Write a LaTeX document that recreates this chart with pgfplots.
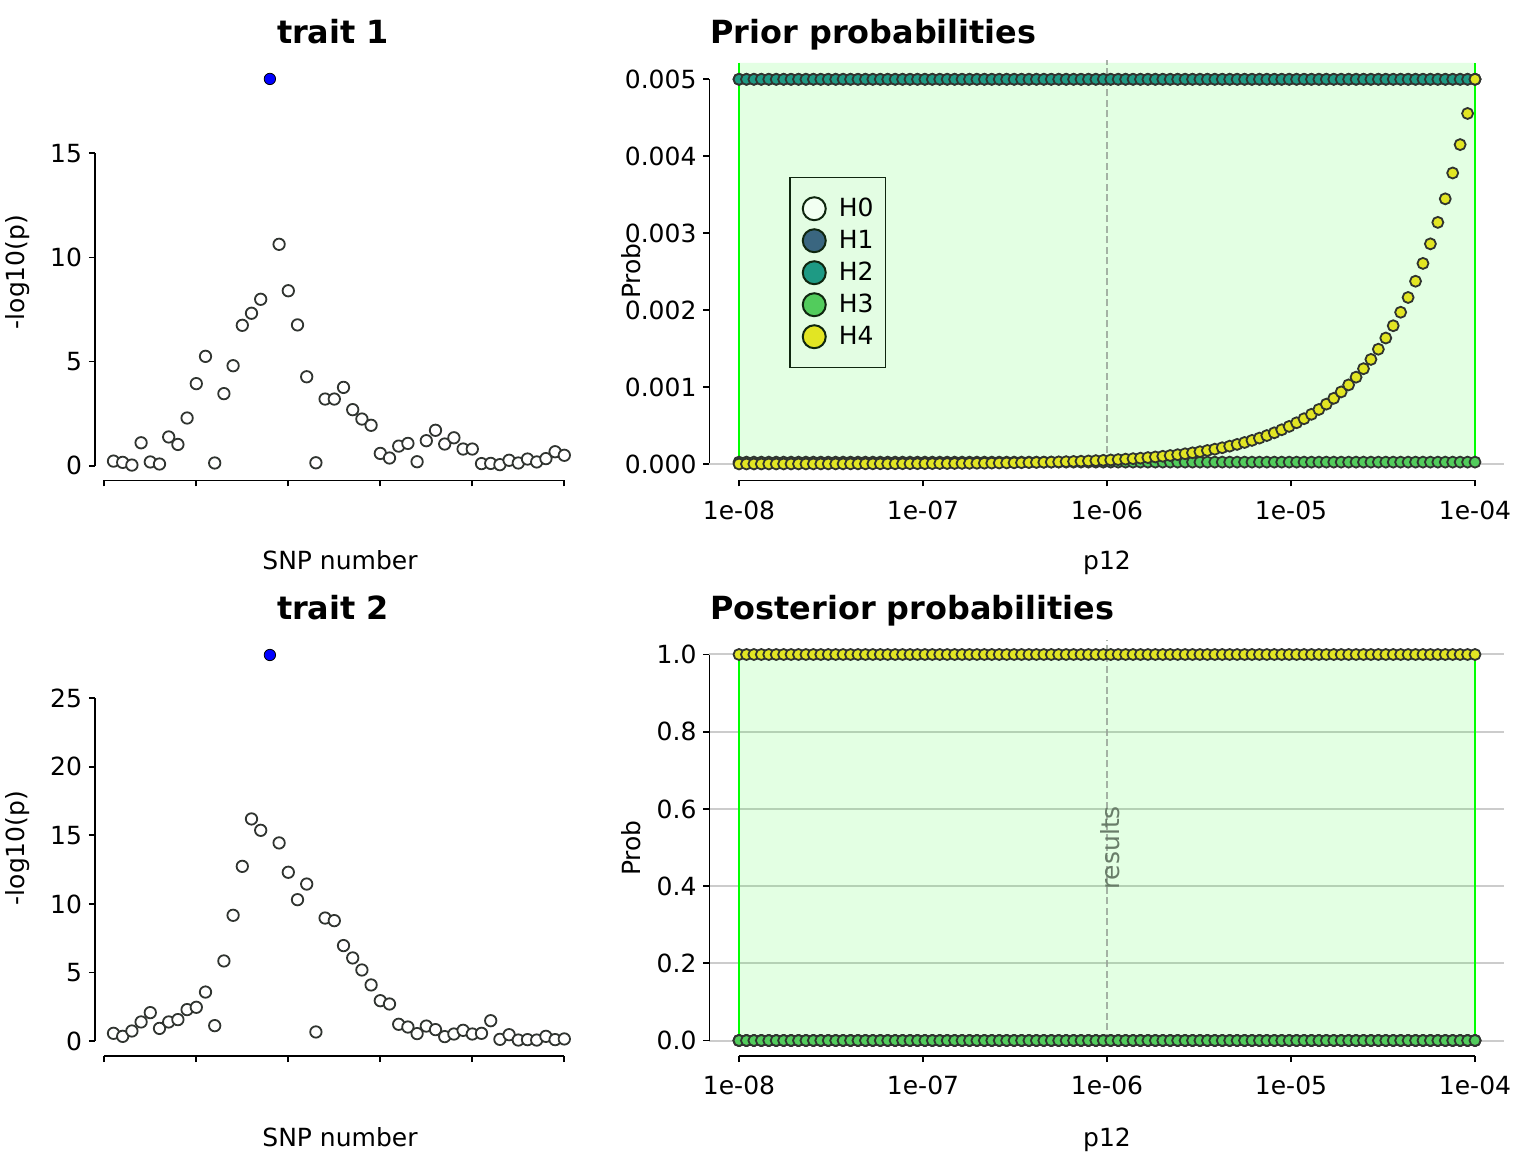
\documentclass[border=0pt]{standalone}
\usepackage{fontspec}
\setmainfont{DejaVu Sans}
\usepackage{pgfplots}
\usepackage{pgfplotstable}
\pgfplotsset{compat=1.18}

\definecolor{h1c}{RGB}{58,102,128}
\definecolor{h2c}{RGB}{30,154,132}
\definecolor{h3c}{RGB}{82,204,92}
\definecolor{h4c}{RGB}{226,229,35}
\definecolor{h0c}{RGB}{242,255,242}
\definecolor{edgec}{RGB}{48,52,48}
\definecolor{legedge}{RGB}{15,38,15}
\definecolor{legfill}{RGB}{227,253,227}
\definecolor{gridc}{RGB}{204,204,204}
\definecolor{dashc}{RGB}{150,160,150}
\definecolor{restext}{RGB}{105,125,105}

\newcommand{\tfont}{\fontsize{12.5}{15}\selectfont}
\newcommand{\ttfont}{\fontsize{15.95}{19}\selectfont\bfseries}

% SNP -log10(p) values, SNP 18 (the lead SNP) is plotted on its own
\pgfplotstableread{
snp t1 t2
1 0.22 0.56
2 0.16 0.34
3 0.03 0.73
4 1.10 1.39
5 0.18 2.07
6 0.08 0.92
7 1.38 1.39
8 1.02 1.56
9 2.29 2.29
10 3.94 2.46
11 5.25 3.57
12 0.13 1.12
13 3.46 5.84
14 4.80 9.17
15 6.74 12.74
16 7.32 16.20
17 7.99 15.37
19 10.63 14.45
20 8.40 12.31
21 6.76 10.31
22 4.27 11.45
23 0.14 0.66
24 3.20 8.97
25 3.20 8.78
26 3.76 6.96
27 2.69 6.06
28 2.24 5.18
29 1.94 4.09
30 0.59 2.94
31 0.37 2.70
32 0.94 1.22
33 1.07 1.02
34 0.19 0.54
35 1.20 1.09
36 1.70 0.83
37 1.04 0.32
38 1.34 0.51
39 0.80 0.78
40 0.80 0.51
41 0.10 0.56
42 0.11 1.48
43 0.05 0.12
44 0.26 0.46
45 0.13 0.07
46 0.32 0.10
47 0.18 0.07
48 0.34 0.34
49 0.67 0.10
50 0.50 0.15
}\snps

% p12 grid with prior H4 (h4), prior H1/H2 (hc), prior H3 (h3), posteriors (one, zero)
\pgfplotstableread{
p12 h4 hc h3 one zero
1.00000e-8 5.00000e-7 0.005 2.45e-5 1 0
1.09750e-8 5.48749e-7 0.005 2.45e-5 1 0
1.20450e-8 6.02252e-7 0.005 2.45e-5 1 0
1.32194e-8 6.60971e-7 0.005 2.45e-5 1 0
1.45083e-8 7.25415e-7 0.005 2.45e-5 1 0
1.59228e-8 7.96142e-7 0.005 2.45e-5 1 0
1.74753e-8 8.73764e-7 0.005 2.45e-5 1 0
1.91791e-8 9.58955e-7 0.005 2.45e-5 1 0
2.10491e-8 1.05245e-6 0.005 2.45e-5 1 0
2.31014e-8 1.15507e-6 0.005 2.45e-5 1 0
2.53537e-8 1.26769e-6 0.005 2.45e-5 1 0
2.78257e-8 1.39129e-6 0.005 2.45e-5 1 0
3.05387e-8 1.52694e-6 0.005 2.45e-5 1 0
3.35162e-8 1.67581e-6 0.005 2.45e-5 1 0
3.67841e-8 1.83920e-6 0.005 2.45e-5 1 0
4.03705e-8 2.01853e-6 0.005 2.45e-5 1 0
4.43066e-8 2.21533e-6 0.005 2.45e-5 1 0
4.86265e-8 2.43133e-6 0.005 2.45e-5 1 0
5.33676e-8 2.66838e-6 0.005 2.45e-5 1 0
5.85709e-8 2.92854e-6 0.005 2.45e-5 1 0
6.42815e-8 3.21407e-6 0.005 2.45e-5 1 0
7.05489e-8 3.52744e-6 0.005 2.45e-5 1 0
7.74273e-8 3.87137e-6 0.005 2.45e-5 1 0
8.49764e-8 4.24882e-6 0.005 2.45e-5 1 0
9.32615e-8 4.66308e-6 0.005 2.45e-5 1 0
1.02353e-7 5.11766e-6 0.005 2.45e-5 1 0
1.12332e-7 5.61661e-6 0.005 2.45e-5 1 0
1.23285e-7 6.16424e-6 0.005 2.45e-5 1 0
1.35305e-7 6.76526e-6 0.005 2.45e-5 1 0
1.48497e-7 7.42487e-6 0.005 2.45e-5 1 0
1.62975e-7 8.14877e-6 0.005 2.45e-5 1 0
1.78865e-7 8.94327e-6 0.005 2.45e-5 1 0
1.96304e-7 9.81522e-6 0.005 2.45e-5 1 0
2.15444e-7 1.07722e-5 0.005 2.45e-5 1 0
2.36450e-7 1.18225e-5 0.005 2.45e-5 1 0
2.59503e-7 1.29752e-5 0.005 2.45e-5 1 0
2.84805e-7 1.42403e-5 0.005 2.45e-5 1 0
3.12573e-7 1.56287e-5 0.005 2.45e-5 1 0
3.43049e-7 1.71525e-5 0.005 2.45e-5 1 0
3.76496e-7 1.88248e-5 0.005 2.45e-5 1 0
4.13205e-7 2.06603e-5 0.005 2.45e-5 1 0
4.53492e-7 2.26746e-5 0.005 2.45e-5 1 0
4.97707e-7 2.48854e-5 0.005 2.45e-5 1 0
5.46234e-7 2.73117e-5 0.005 2.45e-5 1 0
5.99491e-7 2.99746e-5 0.005 2.45e-5 1 0
6.57941e-7 3.28971e-5 0.005 2.45e-5 1 0
7.22089e-7 3.61045e-5 0.005 2.45e-5 1 0
7.92492e-7 3.96246e-5 0.005 2.45e-5 1 0
8.69760e-7 4.34880e-5 0.005 2.45e-5 1 0
9.54560e-7 4.77280e-5 0.005 2.45e-5 1 0
1.04762e-6 5.23810e-5 0.005 2.45e-5 1 0
1.14976e-6 5.74880e-5 0.005 2.45e-5 1 0
1.26186e-6 6.30930e-5 0.005 2.45e-5 1 0
1.38489e-6 6.92450e-5 0.005 2.45e-5 1 0
1.51991e-6 7.59960e-5 0.005 2.45e-5 1 0
1.66810e-6 8.34050e-5 0.005 2.45e-5 1 0
1.83074e-6 9.15370e-5 0.005 2.45e-5 1 0
2.00923e-6 1.00462e-4 0.005 2.45e-5 1 0
2.20514e-6 1.10257e-4 0.005 2.45e-5 1 0
2.42013e-6 1.21007e-4 0.005 2.45e-5 1 0
2.65610e-6 1.32805e-4 0.005 2.45e-5 1 0
2.91506e-6 1.45753e-4 0.005 2.45e-5 1 0
3.19928e-6 1.59964e-4 0.005 2.45e-5 1 0
3.51121e-6 1.75561e-4 0.005 2.45e-5 1 0
3.85356e-6 1.92678e-4 0.005 2.45e-5 1 0
4.22928e-6 2.11464e-4 0.005 2.45e-5 1 0
4.64163e-6 2.32082e-4 0.005 2.45e-5 1 0
5.09417e-6 2.54709e-4 0.005 2.45e-5 1 0
5.59088e-6 2.79544e-4 0.005 2.45e-5 1 0
6.13597e-6 3.06799e-4 0.005 2.45e-5 1 0
6.73423e-6 3.36712e-4 0.005 2.45e-5 1 0
7.39081e-6 3.69541e-4 0.005 2.45e-5 1 0
8.11141e-6 4.05571e-4 0.005 2.45e-5 1 0
8.90226e-6 4.45113e-4 0.005 2.45e-5 1 0
9.77022e-6 4.88511e-4 0.005 2.45e-5 1 0
1.07227e-5 5.36140e-4 0.005 2.45e-5 1 0
1.17681e-5 5.88410e-4 0.005 2.45e-5 1 0
1.29155e-5 6.45780e-4 0.005 2.45e-5 1 0
1.41747e-5 7.08740e-4 0.005 2.45e-5 1 0
1.55568e-5 7.77840e-4 0.005 2.45e-5 1 0
1.70735e-5 8.53680e-4 0.005 2.45e-5 1 0
1.87382e-5 9.36910e-4 0.005 2.45e-5 1 0
2.05651e-5 1.02826e-3 0.005 2.45e-5 1 0
2.25702e-5 1.12851e-3 0.005 2.45e-5 1 0
2.47708e-5 1.23854e-3 0.005 2.45e-5 1 0
2.71860e-5 1.35930e-3 0.005 2.45e-5 1 0
2.98366e-5 1.49183e-3 0.005 2.45e-5 1 0
3.27456e-5 1.63728e-3 0.005 2.45e-5 1 0
3.59384e-5 1.79692e-3 0.005 2.45e-5 1 0
3.94423e-5 1.97212e-3 0.005 2.45e-5 1 0
4.32880e-5 2.16440e-3 0.005 2.45e-5 1 0
4.75085e-5 2.37543e-3 0.005 2.45e-5 1 0
5.21406e-5 2.60703e-3 0.005 2.45e-5 1 0
5.72242e-5 2.86121e-3 0.005 2.45e-5 1 0
6.28036e-5 3.14018e-3 0.005 2.45e-5 1 0
6.89269e-5 3.44635e-3 0.005 2.45e-5 1 0
7.56472e-5 3.78236e-3 0.005 2.45e-5 1 0
8.30227e-5 4.15114e-3 0.005 2.45e-5 1 0
9.11174e-5 4.55587e-3 0.005 2.45e-5 1 0
1.00000e-4 5.00000e-3 0.005 2.45e-5 1 0
}\grid

\pgfplotsset{
  panel/.style={
    scale only axis, clip=false, anchor=south west,
    axis lines*=left,
    axis line style={line width=0.9pt, black},
    tick align=outside, major tick length=3pt,
    tick style={line width=0.9pt, black},
    ticklabel style={font=\tfont},
    scaled ticks=false,
  },
  logpanel/.style={panel, xminorticks=false,
    xmin=6.9107e-9, xmax=1.4375e-4,
    xtick={1e-8,1e-7,1e-6,1e-5,1e-4},
    xticklabels={1e-08,1e-07,1e-06,1e-05,1e-04},
    xticklabel style={yshift=-3.5pt},
    x axis line style={shorten <=14.75pt, shorten >=14.5pt}},
  snp/.style={only marks, mark=*, mark size=2.85pt,
    mark options={draw=edgec, fill=white, line width=0.9pt}},
  hyp/.style={only marks, mark=*, mark size=2.75pt,
    mark options={draw=edgec, fill=#1, line width=0.9pt}},
  region/.style={draw=none, fill=green, fill opacity=0.11},
  edge/.style={green, line width=1pt},
  vline/.style={dashc, line width=0.75pt, dash pattern=on 3.5pt off 1.75pt, opacity=0.8},
  legimg/.style={legend image code/.code={
    \path[draw=none, fill=none] (0pt,-8pt) rectangle (12pt,8pt);
    \draw[draw=legedge, fill=#1, line width=1pt] (6pt,0pt) circle[radius=5.75pt];}},
}

\begin{document}
\begin{tikzpicture}
\path[use as bounding box] (0pt,0pt) rectangle (768pt,576pt);

% trait 1
\begin{axis}[panel, at={(47.5pt,335.75pt)}, width=234.65pt, height=163.6pt,
  xmin=-1.0109, xmax=50, ymin=-0.7106, ymax=15,
  xtick={0,10,20,30,40,50}, xticklabels={},
  ytick={0,5,10,15}, yticklabels={0,5,10,15},
  x axis line style={shorten <=4.65pt},
  y axis line style={shorten <=7.4pt}]
\addplot[snp] table[x=snp, y=t1] {\snps};
\addplot[snp, mark options={fill=blue}] coordinates {(18,18.57)};
\end{axis}

% trait 2
\begin{axis}[panel, at={(47.5pt,48pt)}, width=234.65pt, height=178.85pt,
  xmin=-1.0109, xmax=50, ymin=-1.0942, ymax=25,
  xtick={0,10,20,30,40,50}, xticklabels={},
  ytick={0,5,10,15,20,25}, yticklabels={0,5,10,15,20,25},
  x axis line style={shorten <=4.65pt},
  y axis line style={shorten <=7.5pt}]
\addplot[snp] table[x=snp, y=t2] {\snps};
\addplot[snp, mark options={fill=blue}] coordinates {(18,28.16)};
\end{axis}

% prior probabilities
\begin{axis}[xmode=log, logpanel, at={(354.75pt,335.75pt)}, width=397.25pt, height=210.25pt,
  ymin=-2.1445e-4, ymax=5.2508e-3,
  ytick={0,0.001,0.002,0.003,0.004,0.005},
  yticklabels={0.000,0.001,0.002,0.003,0.004,0.005},
  y axis line style={shorten <=8.25pt, shorten >=9.65pt},
  legend cell align=left,
  legend style={at={(0.1001,0.7218)}, anchor=north west, draw=legedge,
    fill=legfill, line width=0.75pt, inner xsep=6pt, inner ysep=7.5pt,
    font=\tfont, row sep=0pt, column sep=6pt, nodes={inner sep=0pt}}]
\addlegendimage{legimg=h0c}\addlegendentry{H0}
\addlegendimage{legimg=h1c}\addlegendentry{H1}
\addlegendimage{legimg=h2c}\addlegendentry{H2}
\addlegendimage{legimg=h3c}\addlegendentry{H3}
\addlegendimage{legimg=h4c}\addlegendentry{H4}
\addplot[gridc, line width=1pt, forget plot] coordinates {(6.9107e-9,0) (1.4375e-4,0)};
\addplot[region, forget plot] coordinates {(1e-8,-2.6e-5) (1e-4,-2.6e-5) (1e-4,5.212e-3) (1e-8,5.212e-3) (1e-8,-2.6e-5)};
\addplot[hyp=h1c, forget plot] table[x=p12, y=hc] {\grid};
\addplot[hyp=h2c, forget plot] table[x=p12, y=hc] {\grid};
\addplot[hyp=h3c, forget plot] table[x=p12, y=h3] {\grid};
\addplot[hyp=h4c, forget plot] table[x=p12, y=h4] {\grid};
\addplot[edge, forget plot] coordinates {(1e-8,5.212e-3) (1e-8,0) (1e-4,0) (1e-4,5.212e-3)};
\addplot[vline, forget plot] coordinates {(1e-6,0) (1e-6,5.2508e-3)};
\end{axis}

% posterior probabilities
\begin{axis}[xmode=log, logpanel, at={(354.75pt,48pt)}, width=397.25pt, height=208pt,
  ymin=-0.04016, ymax=1.03756,
  ytick={0,0.2,0.4,0.6,0.8,1},
  yticklabels={0.0,0.2,0.4,0.6,0.8,1.0},
  ymajorgrids, major grid style={gridc, line width=1pt},
  y axis line style={shorten <=7.75pt, shorten >=7.25pt}]
\addplot[region] coordinates {(1e-8,0) (1e-4,0) (1e-4,1) (1e-8,1) (1e-8,0)};
\addplot[hyp=h0c] table[x=p12, y=zero] {\grid};
\addplot[hyp=h1c] table[x=p12, y=zero] {\grid};
\addplot[hyp=h2c] table[x=p12, y=zero] {\grid};
\addplot[hyp=h3c] table[x=p12, y=zero] {\grid};
\addplot[hyp=h4c] table[x=p12, y=one] {\grid};
\addplot[edge] coordinates {(1e-8,0) (1e-4,0) (1e-4,1) (1e-8,1) (1e-8,0)};
\addplot[vline] coordinates {(1e-6,0) (1e-6,1.03756)};
\node[rotate=90, font=\tfont, text=restext, inner sep=0pt] at (axis cs:1.038e-6,0.4987) {results};
\end{axis}

% titles and axis labels
\node[font=\ttfont, anchor=base, inner sep=0pt] at (166.5pt,554pt) {trait 1};
\node[font=\ttfont, anchor=base, inner sep=0pt] at (166.5pt,266pt) {trait 2};
\node[font=\ttfont, anchor=base west, inner sep=0pt] at (355pt,554pt) {Prior probabilities};
\node[font=\ttfont, anchor=base west, inner sep=0pt] at (355pt,266pt) {Posterior probabilities};
\node[font=\tfont, anchor=base, inner sep=0pt] at (170pt,291pt) {SNP number};
\node[font=\tfont, anchor=base, inner sep=0pt] at (170pt,3pt) {SNP number};
\node[font=\tfont, anchor=base, inner sep=0pt] at (553.5pt,291pt) {p12};
\node[font=\tfont, anchor=base, inner sep=0pt] at (553.5pt,3pt) {p12};
\node[font=\tfont, rotate=90, inner sep=0pt] at (8.75pt,440pt) {-log10(p)};
\node[font=\tfont, rotate=90, inner sep=0pt] at (8.75pt,152pt) {-log10(p)};
\node[font=\tfont, rotate=90, inner sep=0pt] at (315.5pt,440.5pt) {Prob};
\node[font=\tfont, rotate=90, inner sep=0pt] at (315.5pt,152pt) {Prob};
\end{tikzpicture}
\end{document}
